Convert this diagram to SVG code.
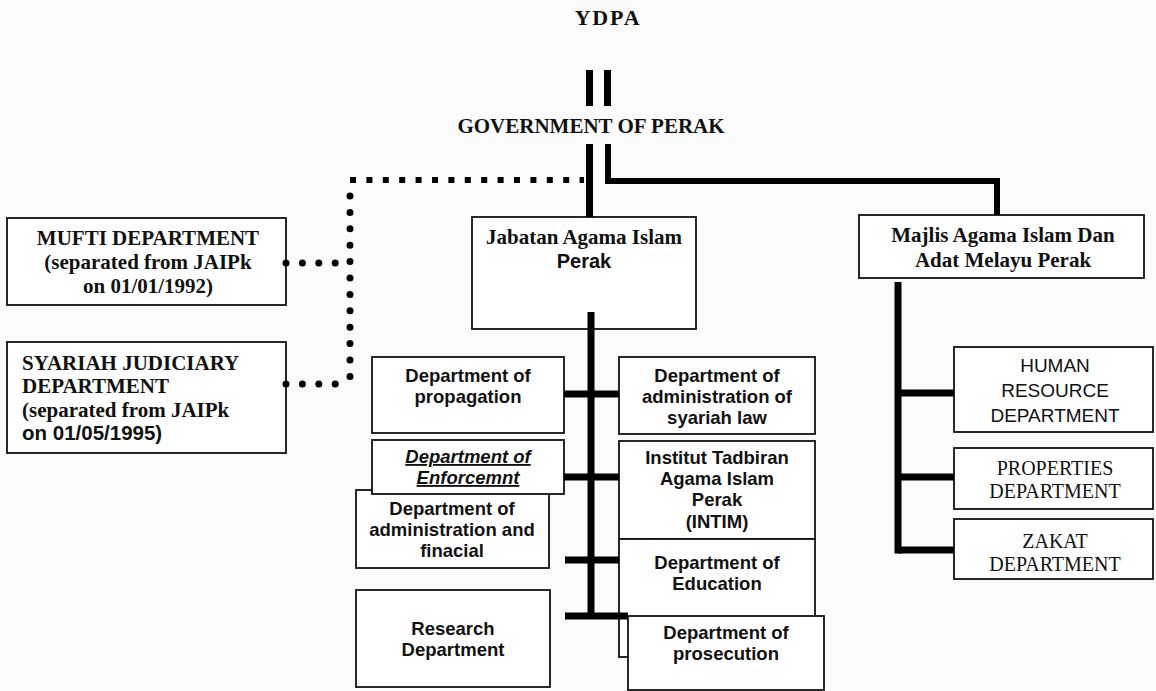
<svg xmlns="http://www.w3.org/2000/svg" width="1156" height="691" viewBox="0 0 1156 691">
<style>
.bx{fill:#fff;stroke:#111;stroke-width:1.8}
.sb{font-family:"Liberation Serif","Times New Roman",serif;font-weight:bold;font-size:21px;fill:#111}
.s{font-family:"Liberation Serif","Times New Roman",serif;font-size:20px;fill:#111}
.ab{font-family:"Liberation Sans",Arial,sans-serif;font-weight:bold;font-size:18.5px;fill:#111}
.a{font-family:"Liberation Sans",Arial,sans-serif;font-size:19px;fill:#111}
.c{text-anchor:middle}
.it{font-style:italic;text-decoration:underline}
.solid{fill:none;stroke:#000;stroke-width:7}
.thin{fill:none;stroke:#000;stroke-width:6}
.sq{fill:none;stroke:#000;stroke-width:6;stroke-dasharray:6 10.4}
.rd{fill:none;stroke:#000;stroke-width:7;stroke-linecap:round;stroke-dasharray:0 16.4}
</style>
<rect width="1156" height="691" fill="#fbfbfb"/>
<g id="ydpa"><text class="sb c" x="608" y="25" style="font-size:22px" letter-spacing="1.8">YDPA</text></g>
<g id="gov"><text class="sb c" x="591" y="133">GOVERNMENT OF PERAK</text></g>
<g id="mufti">
<rect class="bx" x="7" y="218" width="279" height="87"/>
<text class="sb c" x="148" y="245">MUFTI DEPARTMENT</text>
<text class="sb c" x="148" y="269">(separated from JAIPk</text>
<text class="sb c" x="148" y="293">on 01/01/1992)</text>
</g>
<g id="syariah-judiciary">
<rect class="bx" x="7" y="342" width="279" height="111"/>
<text class="sb" x="22" y="370">SYARIAH JUDICIARY</text>
<text class="sb" x="22" y="393">DEPARTMENT</text>
<text class="sb" x="22" y="417">(separated from JAIPk</text>
<text class="ab" x="22" y="440" style="font-size:20.5px">on 01/05/1995)</text>
</g>
<g id="jabatan">
<rect class="bx" x="472" y="217" width="224" height="112"/>
<text class="sb c" x="584" y="244">Jabatan Agama Islam</text>
<text class="ab c" x="584" y="268" style="font-size:20px">Perak</text>
</g>
<g id="majlis">
<rect class="bx" x="859" y="215" width="285" height="63"/>
<text class="sb c" x="1003" y="242">Majlis Agama Islam Dan</text>
<text class="sb c" x="1003" y="267">Adat Melayu Perak</text>
</g>
<g id="propagation">
<rect class="bx" x="372" y="357" width="192" height="76"/>
<text class="ab c" x="468" y="382">Department of</text>
<text class="ab c" x="468" y="403">propagation</text>
</g>
<g id="admin-financial">
<rect class="bx" x="356" y="490" width="193" height="78"/>
<text class="ab c" x="452" y="515">Department of</text>
<text class="ab c" x="452" y="536">administration and</text>
<text class="ab c" x="452" y="557">finacial</text>
</g>
<g id="enforcement">
<rect class="bx" x="372" y="440" width="192" height="54"/>
<text class="ab c it" x="468" y="463">Department of</text>
<text class="ab c it" x="468" y="484">Enforcemnt</text>
</g>
<g id="research">
<rect class="bx" x="356" y="590" width="194" height="97"/>
<text class="ab c" x="453" y="635">Research</text>
<text class="ab c" x="453" y="656">Department</text>
</g>
<g id="syariah-law">
<rect class="bx" x="619" y="357" width="196" height="77"/>
<text class="ab c" x="717" y="382">Department of</text>
<text class="ab c" x="717" y="403">administration of</text>
<text class="ab c" x="717" y="424">syariah law</text>
</g>
<g id="intim">
<rect class="bx" x="619" y="441" width="196" height="98"/>
<text class="ab c" x="717" y="464">Institut Tadbiran</text>
<text class="ab c" x="717" y="485">Agama Islam</text>
<text class="ab c" x="717" y="506">Perak</text>
<text class="ab c" x="717" y="528">(INTIM)</text>
</g>
<g id="education">
<rect class="bx" x="619" y="539" width="196" height="118"/>
<text class="ab c" x="717" y="569">Department of</text>
<text class="ab c" x="717" y="590">Education</text>
</g>
<g id="prosecution">
<rect class="bx" x="628" y="616" width="196" height="74"/>
<text class="ab c" x="726" y="639">Department of</text>
<text class="ab c" x="726" y="660">prosecution</text>
</g>
<g id="human-resource">
<rect class="bx" x="954" y="347" width="199" height="85"/>
<text class="a c" x="1055" y="372">HUMAN</text>
<text class="a c" x="1055" y="397">RESOURCE</text>
<text class="a c" x="1055" y="422">DEPARTMENT</text>
</g>
<g id="properties">
<rect class="bx" x="954" y="448" width="199" height="61"/>
<text class="s c" x="1055" y="475">PROPERTIES</text>
<text class="s c" x="1055" y="498">DEPARTMENT</text>
</g>
<g id="zakat">
<rect class="bx" x="954" y="519" width="199" height="60"/>
<text class="s c" x="1055" y="548">ZAKAT</text>
<text class="s c" x="1055" y="571">DEPARTMENT</text>
</g>
<g id="connectors">
<line class="solid" x1="589.5" y1="70" x2="589.5" y2="106"/>
<line class="solid" x1="607.5" y1="70" x2="607.5" y2="106"/>
<line class="solid" x1="589.5" y1="144" x2="589.5" y2="217"/>
<polyline class="thin" points="608,144 608,181 997,181 997,215"/>
<line class="sq" x1="350" y1="180" x2="584" y2="180"/>
<line class="rd" x1="350" y1="196" x2="350" y2="384"/>
<line class="rd" x1="286" y1="263" x2="350" y2="263"/>
<line class="rd" x1="286" y1="384" x2="350" y2="384"/>
<line class="solid" x1="591" y1="312" x2="591" y2="619"/>
<line class="solid" x1="564" y1="394" x2="619" y2="394"/>
<line class="solid" x1="564" y1="477" x2="619" y2="477"/>
<line class="solid" x1="565" y1="560" x2="619" y2="560"/>
<line class="solid" x1="565" y1="616" x2="628" y2="616"/>
<line class="solid" x1="898" y1="282" x2="898" y2="553.5"/>
<line class="solid" x1="898" y1="393" x2="954" y2="393"/>
<line class="solid" x1="898" y1="477" x2="954" y2="477"/>
<line class="solid" x1="898" y1="550" x2="954" y2="550"/>
</g>
</svg>
